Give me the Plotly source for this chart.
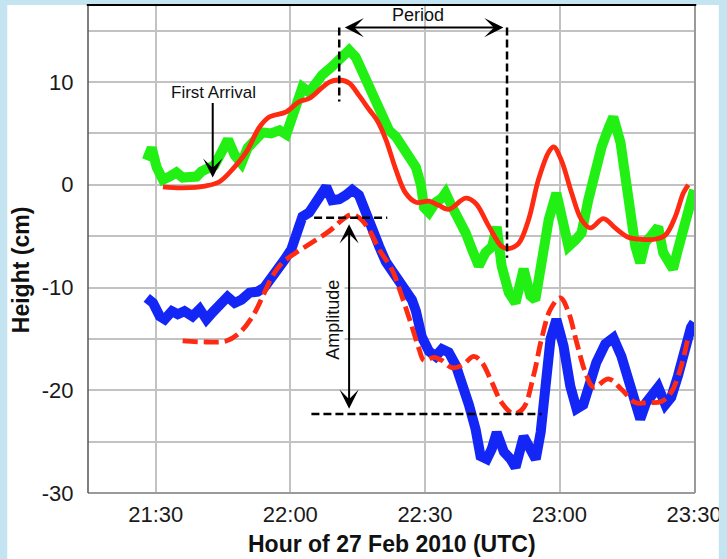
import pandas as pd
import plotly.graph_objects as go

# ---- data (minutes after 21:30 UTC, height in cm) ----
green_t = [-2.0, -0.9, 0.2, 1.6, 3.1, 4.6, 6.0, 7.6, 9.1, 10.2, 11.3, 13.1, 14.7, 16.1, 17.6, 19.1,
           20.5, 22.0, 23.8, 25.7, 27.6, 29.1, 30.5, 31.8, 32.7, 34.2, 37.1, 39.3, 40.9, 43.1, 44.6,
           46.1, 47.6, 49.1, 50.5, 52.0, 53.5, 55.0, 56.4, 58.0, 59.1, 59.8, 60.9, 62.4, 63.8, 64.6,
           66.0, 67.6, 69.1, 70.5, 72.0, 73.5, 75.0, 76.0, 77.1, 78.7, 80.2, 82.0, 83.5, 84.6, 86.0,
           87.6, 89.3, 90.9, 92.0, 93.5, 94.9, 96.4, 98.0, 99.4, 101.0, 102.0, 103.6, 104.6, 105.8,
           106.9, 108.0, 109.1, 110.4, 112.0, 113.1, 114.2, 115.3, 116.4, 118.0, 119.3, 120.0]
green_v = [2.4, 3.6, 1.7, 0.5, 0.8, 1.2, 0.7, 0.7, 0.8, 1.3, 1.6, 1.9, 3.2, 4.4, 2.9, 2.1,
           3.6, 4.4, 5.1, 5.0, 5.3, 4.9, 6.8, 8.0, 9.5, 9.0, 10.7, 11.5, 12.3, 13.1, 12.4,
           10.9, 9.5, 7.8, 6.5, 5.3, 4.7, 3.7, 2.7, 1.7, 0.0, -2.2, -2.7, -1.7, -1.3, -0.8,
           -2.1, -3.4, -4.7, -6.3, -7.9, -6.6, -6.0, -4.1, -7.9, -10.5, -11.5, -8.2, -10.8, -11.2, -7.9,
           -3.4, -0.8, -3.4, -6.0, -5.4, -4.7, -1.5, 1.5, 3.7, 5.6, 6.6, 4.1, 0.8, -2.4,
           -6.0, -7.6, -5.6, -5.0, -4.1, -6.6, -7.6, -8.2, -6.3, -3.4, -0.8, -0.5]

blue_t = [-2.0, -0.6, 0.9, 2.0, 3.6, 4.9, 6.4, 8.2, 9.8, 11.3, 12.7, 14.2, 16.0, 17.6, 19.1, 20.9,
          22.7, 24.2, 25.7, 27.1, 28.7, 30.2, 31.6, 32.7, 34.2, 35.8, 36.9, 38.0, 39.3, 40.9, 42.4,
          43.8, 45.3, 46.9, 48.2, 49.8, 51.3, 52.7, 54.2, 55.7, 57.1, 58.0, 59.3, 60.9, 62.4, 63.8,
          65.3, 66.9, 68.2, 69.8, 71.3, 72.4, 73.8, 74.9, 76.0, 77.6, 79.1, 80.2, 82.0, 83.5, 84.7,
          85.8, 86.9, 88.0, 89.3, 90.9, 92.4, 93.8, 95.3, 96.9, 98.2, 100.2, 102.0, 103.8, 105.3,
          106.9, 108.0, 109.3, 110.9, 112.0, 113.6, 114.9, 116.4, 118.0, 119.3, 120.0]
blue_v = [-11.0, -11.5, -12.8, -13.1, -12.3, -12.6, -12.3, -12.8, -12.1, -13.1, -12.4, -11.8, -10.9,
          -11.5, -11.2, -10.5, -10.4, -10.0, -9.2, -8.3, -7.3, -6.3, -4.7, -3.1, -2.7, -1.5, -0.8,
          -0.2, -1.5, -1.4, -1.0, -0.5, -1.0, -2.9, -4.7, -6.0, -7.5, -8.3, -9.2, -10.0, -11.2,
          -12.3, -14.8, -16.2, -16.7, -16.0, -16.3, -17.6, -19.2, -21.4, -23.8, -26.4, -26.7, -25.7,
          -24.1, -26.0, -26.7, -27.5, -24.5, -25.7, -26.7, -24.1, -19.2, -15.0, -13.1, -15.7, -19.6,
          -21.8, -21.4, -19.2, -17.3, -15.5, -14.9, -16.7, -18.9, -21.4, -22.8, -21.2, -20.1, -19.7,
          -21.4, -20.7, -18.6, -15.8, -13.9, -13.4]

red_t = [1.6, 6.0, 11.3, 14.2, 17.1, 20.2, 23.1, 25.3, 29.1, 32.0, 34.2, 38.7, 40.9, 43.1, 45.3,
         47.6, 49.3, 51.3, 53.5, 55.7, 58.0, 60.9, 63.1, 65.3, 69.1, 71.3, 74.2, 77.1, 78.7, 80.9,
         83.1, 85.3, 87.6, 88.7, 90.4, 92.7, 94.9, 96.9, 99.8, 102.4, 105.3, 108.2, 111.3, 113.6,
         115.8, 117.6, 118.7]
red_v = [-0.2, -0.3, -0.1, 0.3, 1.5, 3.2, 5.6, 6.6, 7.1, 8.1, 8.4, 10.0, 10.2, 9.9, 8.7,
         7.3, 6.3, 4.4, 1.5, -0.8, -1.7, -1.6, -2.0, -2.4, -1.3, -1.8, -4.0, -6.0, -6.2, -5.7,
         -3.4, 0.5, 3.2, 3.7, 2.4, -0.8, -3.4, -4.2, -3.3, -4.2, -5.1, -5.3, -5.3, -4.9,
         -3.1, -0.8, 0.0]

reddash_t = [6.0, 11.3, 15.7, 18.7, 21.6, 23.8, 26.0, 28.2, 31.3, 34.9, 38.7, 41.6, 43.6, 45.3,
             47.6, 49.8, 52.7, 54.9, 57.1, 58.7, 59.8, 62.0, 63.8, 66.0, 68.2, 70.9, 72.7, 74.9,
             77.1, 79.8, 82.0, 84.2, 86.0, 88.0, 90.2, 92.0, 93.8, 95.8, 97.6, 100.9, 103.8,
             106.9, 109.8, 112.7, 114.9, 116.9, 118.7]
reddash_v = [-15.2, -15.3, -15.2, -14.4, -12.8, -10.9, -8.9, -7.6, -6.6, -5.6, -4.5, -3.4, -2.9,
             -3.2, -4.4, -6.3, -8.3, -10.9, -13.8, -16.0, -17.1, -16.8, -17.1, -17.8, -17.6, -16.7,
             -17.3, -19.2, -21.2, -22.3, -21.7, -18.6, -15.0, -12.1, -11.0, -12.4, -15.3, -18.3,
             -19.7, -18.9, -19.9, -21.2, -21.2, -21.1, -20.2, -18.0, -14.8]

tick_minutes = [0, 30, 60, 90, 120]
tick_labels = ["21:30", "22:00", "22:30", "23:00", "23:30"]
y_ticks = [-30, -25, -20, -15, -10, -5, 0, 5, 10, 15]
y_labels = ["-30", "", "-20", "", "-10", "", "0", "", "10", ""]

BASE = pd.Timestamp("2010-02-27 21:30:00")


def T(m):
    return (BASE + pd.to_timedelta(m, unit="m")).strftime("%Y-%m-%d %H:%M:%S.%f")


def TS(lst):
    return [T(m) for m in lst]


FONT = "Liberation Sans, Arial, Helvetica, sans-serif"
BLUE_BG = "#c3e4f0"

fig = go.Figure()
fig.add_trace(go.Scatter(x=TS(green_t), y=green_v, mode="lines",
                         line=dict(color="#22f014", width=10), hoverinfo="skip"))
fig.add_trace(go.Scatter(x=TS(blue_t), y=blue_v, mode="lines",
                         line=dict(color="#1426f5", width=10), hoverinfo="skip"))
fig.add_trace(go.Scatter(x=TS(red_t), y=red_v, mode="lines",
                         line=dict(color="#ff2a12", width=4.8, shape="spline", smoothing=1.0),
                         hoverinfo="skip"))
fig.add_trace(go.Scatter(x=TS(reddash_t), y=reddash_v, mode="lines",
                         line=dict(color="#ff2a12", width=4.8, shape="spline", smoothing=1.0,
                                   dash="15px,6px"), hoverinfo="skip"))

# dashed black guide lines
dash_black = dict(color="black", width=2.5, dash="8px,4px")
guides = [
    ((40.9, 15.3), (40.9, 8.1)),
    ((78.3, 15.3), (78.3, -7.1)),
    ((35.3, -3.2), (51.6, -3.2)),
    ((34.7, -22.3), (86.0, -22.3)),
]
for (a, b) in guides:
    fig.add_shape(type="line", xref="x", yref="y", x0=T(a[0]), y0=a[1], x1=T(b[0]), y1=b[1],
                  line=dash_black, layer="above")

# frame lines
fig.add_shape(type="rect", xref="paper", yref="paper", x0=-0.133, x1=1.0394, y0=-0.2, y1=1.0,
              fillcolor="white", line=dict(width=0), layer="below")
fig.add_shape(type="line", xref="paper", yref="paper", x0=0, x1=1, y0=0, y1=0,
              line=dict(color="#9a9a9a", width=2), layer="above")
fig.add_shape(type="line", xref="paper", yref="paper", x0=1, x1=1, y0=0, y1=1,
              line=dict(color="#9a9a9a", width=2), layer="above")
fig.add_shape(type="line", xref="paper", yref="paper", x0=0, x1=0, y0=0, y1=1,
              line=dict(color="#555555", width=1.5), layer="above")
fig.add_shape(type="line", xref="paper", yref="paper", x0=-0.002, x1=1.002, y0=1, y1=1,
              line=dict(color="black", width=2), layer="above")
fig.add_shape(type="rect", xref="paper", yref="paper", x0=1.0394, x1=1.1, y0=-0.2, y1=1.1,
              fillcolor=BLUE_BG, line=dict(width=0), layer="above")

ann_font = dict(family=FONT, size=17, color="#111111")
# First Arrival
fig.add_annotation(x=T(12.9), y=9.0, text="First Arrival", showarrow=False, font=ann_font,
                   xanchor="center", yanchor="middle")
fig.add_annotation(x=T(12.7), y=0.7, ax=T(12.7), ay=8.1, axref="x", ayref="y", xref="x", yref="y",
                   text="", showarrow=True, arrowhead=3, arrowsize=1.6, arrowwidth=2,
                   arrowcolor="black")
# Period
fig.add_annotation(x=T(58.5), y=16.5, text="Period", showarrow=False, font=dict(family=FONT, size=18, color="#111111"),
                   xanchor="center", yanchor="middle")
fig.add_annotation(x=T(77.5), y=15.3, ax=T(41.8), ay=15.3, axref="x", ayref="y", xref="x", yref="y",
                   text="", showarrow=True, arrowhead=3, startarrowhead=3, arrowside="end+start",
                   arrowsize=1.6, startarrowsize=1.6, arrowwidth=2, arrowcolor="black")
# Amplitude
fig.add_annotation(x=T(43.1), y=-21.8, ax=T(43.1), ay=-3.7, axref="x", ayref="y", xref="x", yref="y",
                   text="", showarrow=True, arrowhead=3, startarrowhead=3, arrowside="end+start",
                   arrowsize=1.6, startarrowsize=1.6, arrowwidth=2, arrowcolor="black")
fig.add_annotation(x=T(39.6), y=-13.1, text="Amplitude", showarrow=False, textangle=-90,
                   font=dict(family=FONT, size=18, color="#111111"), bgcolor="white",
                   xanchor="center", yanchor="middle")

# axis titles
fig.add_annotation(xref="paper", yref="paper", x=0.5, y=-0.104, text="<b>Hour of 27 Feb 2010 (UTC)</b>",
                   showarrow=False, font=dict(family=FONT, size=23, color="#111111"),
                   xanchor="center", yanchor="middle")
fig.add_annotation(xref="paper", yref="paper", x=-0.110, y=0.457, text="<b>Height (cm)</b>",
                   showarrow=False, textangle=-90, font=dict(family=FONT, size=23, color="#111111"),
                   xanchor="center", yanchor="middle")

fig.update_xaxes(type="date", range=[T(-15.1), T(120.2)], tickvals=TS(tick_minutes), ticktext=tick_labels,
                 showgrid=True, gridcolor="#c2c2c2", gridwidth=2, zeroline=False, showline=False,
                 ticks="outside", ticklen=2, tickcolor="rgba(0,0,0,0)",
                 tickfont=dict(family=FONT, size=22, color="#1a1a1a"))
fig.update_yaxes(range=[-30, 17.5], tickvals=y_ticks, ticktext=y_labels,
                 showgrid=True, gridcolor="#c2c2c2", gridwidth=2, zeroline=False, showline=False,
                 ticks="outside", ticklen=9, tickcolor="rgba(0,0,0,0)",
                 tickfont=dict(family=FONT, size=22, color="#1a1a1a"))

fig.update_layout(width=727, height=559, margin=dict(l=88, r=30, t=5, b=66),
                  paper_bgcolor=BLUE_BG, plot_bgcolor="white", showlegend=False)

fig.write_html("out.html", config={"displayModeBar": False},
               post_script="document.body.style.margin='0px';document.body.style.overflow='hidden';")
